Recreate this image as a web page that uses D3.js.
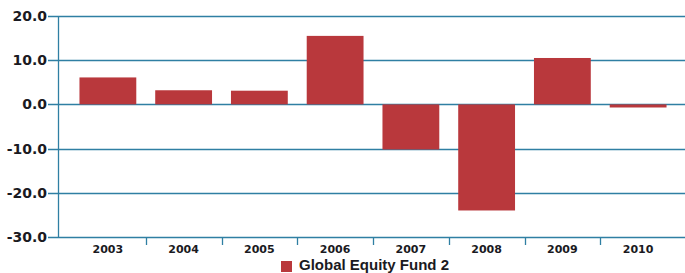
<!DOCTYPE html>
<html>
<head>
<meta charset="utf-8">
<script src="https://cdn.jsdelivr.net/npm/d3@7"></script>
<style>
body { margin: 0; background: #fff; }
</style>
</head>
<body>
<div id="chart"></div>
<script>
var years = ["2003", "2004", "2005", "2006", "2007", "2008", "2009", "2010"];
var fund = [6.1, 3.2, 3.1, 15.5, -10.2, -24.0, 10.5, -0.7];
var yTicks = [20, 10, 0, -10, -20, -30];
var seriesName = "Global Equity Fund 2";

var w = 685, h = 273;
var gridColor = "#2f7fa3";
var barColor = "#b9383c";

var svg = d3.select("#chart").append("svg")
    .attr("width", w)
    .attr("height", h);

var x = d3.scaleBand()
    .domain(years)
    .range([70, 676])
    .paddingInner(0.25)
    .paddingOuter(0.125);

var y = d3.scaleLinear()
    .domain([-30, 20])
    .range([237, 16]);

// grid lines + left ticks
svg.selectAll("line.grid")
    .data(yTicks)
    .enter()
    .append("line")
    .attr("class", "grid")
    .attr("x1", 48)
    .attr("x2", w)
    .attr("y1", function(d) { return Math.round(y(d)) + 0.5; })
    .attr("y2", function(d) { return Math.round(y(d)) + 0.5; })
    .attr("stroke", gridColor)
    .attr("stroke-width", 1.3);

svg.selectAll("text.ylab")
    .data(yTicks)
    .enter()
    .append("text")
    .attr("class", "ylab")
    .attr("x", 47)
    .attr("y", function(d) { return y(d) + 5; })
    .attr("text-anchor", "end")
    .attr("font-family", "DejaVu Sans")
    .attr("font-weight", "bold")
    .attr("font-size", "14px")
    .attr("fill", "#1a1a22")
    .text(function(d) { return d.toFixed(1); });

// bars
svg.selectAll("rect.bar")
    .data(fund)
    .enter()
    .append("rect")
    .attr("class", "bar")
    .attr("x", function(d, i) { return x(years[i]); })
    .attr("width", x.bandwidth())
    .attr("y", function(d) { return y(Math.max(0, d)); })
    .attr("height", function(d) { return Math.abs(y(d) - y(0)); })
    .attr("fill", barColor);

// y axis line
svg.append("line")
    .attr("x1", 58.5).attr("x2", 58.5)
    .attr("y1", y(20)).attr("y2", y(-30))
    .attr("stroke", gridColor)
    .attr("stroke-width", 1.3);

// x axis ticks between categories
var step = x.step();
svg.selectAll("line.xtick")
    .data(years.slice(1))
    .enter()
    .append("line")
    .attr("class", "xtick")
    .attr("x1", function(d) { return Math.round(x(d) - x.paddingInner() * step / 2) + 0.5; })
    .attr("x2", function(d) { return Math.round(x(d) - x.paddingInner() * step / 2) + 0.5; })
    .attr("y1", y(-30))
    .attr("y2", y(-30) + 8)
    .attr("stroke", gridColor)
    .attr("stroke-width", 1.3);

svg.selectAll("text.xlab")
    .data(years)
    .enter()
    .append("text")
    .attr("class", "xlab")
    .attr("x", function(d) { return x(d) + x.bandwidth() / 2; })
    .attr("y", 253)
    .attr("text-anchor", "middle")
    .attr("font-family", "DejaVu Sans")
    .attr("font-weight", "bold")
    .attr("font-size", "11px")
    .attr("fill", "#1a1a22")
    .text(function(d) { return d; });

// legend
svg.append("rect")
    .attr("x", 281)
    .attr("y", 261)
    .attr("width", 11)
    .attr("height", 11)
    .attr("fill", barColor);

svg.append("text")
    .attr("x", 299)
    .attr("y", 270)
    .attr("font-family", "Liberation Sans")
    .attr("font-weight", "bold")
    .attr("font-size", "15px")
    .attr("fill", "#1a1a22")
    .text(seriesName);
</script>
</body>
</html>
